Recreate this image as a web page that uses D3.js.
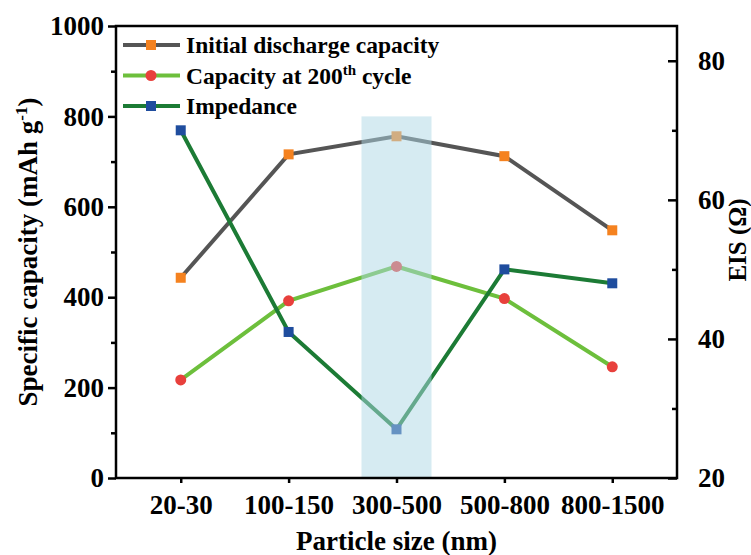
<!DOCTYPE html>
<html lang="en">
<head>
    <meta charset="utf-8">
    <title>Particle size</title>
    <script src="https://d3js.org/d3.v7.min.js" charset="utf-8"></script>
    <style type="text/css">
        body { margin: 0; background: #fff; }
        text { font-family: 'Liberation Serif', 'Times New Roman', serif; font-weight: bold; }
    </style>
</head>
<body>
<svg id="svg"></svg>
<script type="text/javascript">

    var sizes = ['20-30', '100-150', '300-500', '500-800', '800-1500'];
    var initialCapacity = [443, 716, 756, 712, 548];
    var cycle200Capacity = [217, 392, 468, 397, 246];
    var impedance = [70, 41, 27, 50, 48];
    var leftTicks = [0, 200, 400, 600, 800, 1000];
    var rightTicks = [20, 40, 60, 80];

    function draw() {
        var width = 751, height = 555;
        var pLeft = 116, pRight = 677, pTop = 26, pBottom = 478;

        var svg = d3.select('svg')
                .attr('width', width)
                .attr('height', height);

        var x = d3.scalePoint().domain(sizes).range([pLeft, pRight]).padding(0.6);
        var yL = d3.scaleLinear().domain([0, 1000]).range([pBottom, pTop]);
        var yR = d3.scaleLinear().domain([20, 85]).range([pBottom, pTop]);

        var series = [
            {name: 'Initial discharge capacity', values: initialCapacity, y: yL, line: '#555555', marker: '#f5821f', shape: 'square'},
            {name: 'Capacity at 200', sup: 'th', tail: ' cycle', values: cycle200Capacity, y: yL, line: '#6dbf3c', marker: '#e8403c', shape: 'circle'},
            {name: 'Impedance', values: impedance, y: yR, line: '#1c7b35', marker: '#1f4d9e', shape: 'square'}
        ];

        function drawMarker(g, s, cx, cy) {
            if (s.shape === 'circle') {
                g.append('circle').attr('cx', cx).attr('cy', cy).attr('r', 5.5).attr('fill', s.marker);
            } else {
                g.append('rect').attr('x', cx - 5).attr('y', cy - 5).attr('width', 10).attr('height', 10).attr('fill', s.marker);
            }
        }

        // lines first, then markers on top
        series.forEach(function (s) {
            var line = d3.line()
                    .x(function (d, i) { return x(sizes[i]); })
                    .y(function (d) { return s.y(d); });
            svg.append('path')
                    .datum(s.values)
                    .attr('d', line)
                    .attr('fill', 'none')
                    .attr('stroke', s.line)
                    .attr('stroke-width', 4);
        });
        series.forEach(function (s) {
            s.values.forEach(function (d, i) {
                drawMarker(svg, s, x(sizes[i]), s.y(d));
            });
        });

        // highlight band over 300-500
        svg.append('rect')
                .attr('x', x('300-500') - 35)
                .attr('y', yL(800))
                .attr('width', 70)
                .attr('height', pBottom - yL(800))
                .attr('fill', 'rgb(173,216,230)')
                .attr('opacity', 0.5);

        // axes
        svg.append('g').attr('transform', 'translate(' + pLeft + ',0)')
                .call(d3.axisLeft(yL).tickValues(leftTicks).tickFormat(d3.format('d')).tickSize(8).tickPadding(4));
        svg.append('g').attr('transform', 'translate(' + pLeft + ',0)')
                .call(d3.axisLeft(yL).tickValues(d3.range(100, 1000, 200)).tickSize(5).tickFormat(''));
        svg.append('g').attr('transform', 'translate(' + pRight + ',0)')
                .call(d3.axisRight(yR).tickValues(rightTicks).tickSize(-9).tickPadding(21));
        svg.append('g').attr('transform', 'translate(' + pRight + ',0)')
                .call(d3.axisRight(yR).tickValues([30, 50, 70]).tickSize(-5).tickFormat(''));
        var axisX = svg.append('g').attr('transform', 'translate(0,' + pBottom + ')')
                .call(d3.axisBottom(x).tickSize(5).tickPadding(8));

        svg.selectAll('.domain').remove();
        svg.selectAll('.tick line').attr('stroke', '#000').attr('stroke-width', 2.5);
        svg.selectAll('.tick text').style('font-size', '27px').attr('fill', '#000')
                .style('font-family', "'Liberation Serif', serif").style('font-weight', 'bold');
        axisX.selectAll('.tick text').attr('dy', '0.85em');

        svg.append('rect')
                .attr('x', pLeft).attr('y', pTop)
                .attr('width', pRight - pLeft).attr('height', pBottom - pTop)
                .attr('fill', 'none').attr('stroke', '#000').attr('stroke-width', 2.5);

        // axis titles
        svg.append('text')
                .attr('x', (pLeft + pRight) / 2).attr('y', 550)
                .attr('text-anchor', 'middle')
                .style('font-size', '27px')
                .text('Particle size (nm)');

        var tl = svg.append('text')
                .attr('transform', 'translate(37,' + ((pTop + pBottom) / 2) + ') rotate(-90)')
                .attr('text-anchor', 'middle')
                .style('font-size', '27px');
        tl.append('tspan').text('Specific capacity (mAh g');
        tl.append('tspan').attr('dy', -10).style('font-size', '17px').text('-1');
        tl.append('tspan').attr('dy', 10).text(')');

        svg.append('text')
                .attr('transform', 'translate(746,240) rotate(-90)')
                .attr('text-anchor', 'middle')
                .style('font-size', '25px')
                .text('EIS (\u03a9)');

        // legend
        var legend = svg.append('g');
        series.forEach(function (s, i) {
            var ly = 45 + i * 30.5;
            legend.append('line')
                    .attr('x1', 123).attr('x2', 180).attr('y1', ly).attr('y2', ly)
                    .attr('stroke', s.line).attr('stroke-width', 4);
            drawMarker(legend, s, 151, ly);
            var t = legend.append('text')
                    .attr('x', 186).attr('y', ly + 8)
                    .style('font-size', '23.5px');
            t.append('tspan').text(s.name);
            if (s.sup) {
                t.append('tspan').attr('dy', -9).style('font-size', '15px').text(s.sup);
                t.append('tspan').attr('dy', 9).text(s.tail);
            }
        });
    }

    draw();
</script>
</body>
</html>
